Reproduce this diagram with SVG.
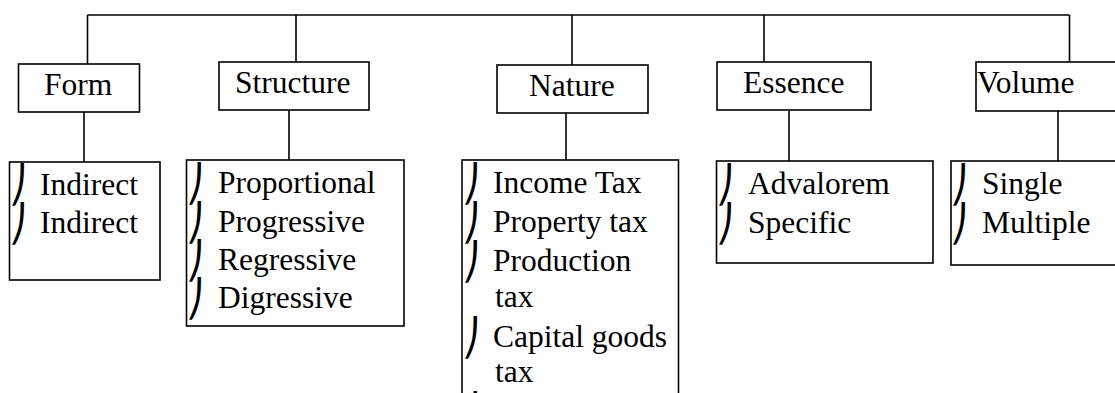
<svg xmlns="http://www.w3.org/2000/svg" width="1115" height="393" viewBox="0 0 1115 393">
<style>
.box{fill:#fff;stroke:#000;stroke-width:1.6}
.ln{fill:none;stroke:#000;stroke-width:1.6}
.t{font-family:'Liberation Serif','DejaVu Serif','Times New Roman',serif;font-size:31.5px;fill:#000}
.b{font-family:'DejaVu Sans','Noto Sans',sans-serif;font-size:36px;fill:#000}
</style>
<rect width="1115" height="393" fill="#fff"/>
<g id="connectors">
<path class="ln" d="M87.5,15 H1069.5 M87.5,15 V64 M296,15 V62 M572,15 V65 M764,15 V62 M1069.5,15 V62"/>
<path class="ln" d="M84,112 V162 M289,110 V160 M566,113 V160 M789,111 V161 M1058,111 V161"/>
</g>
<g id="form">
<rect class="box" x="18.5" y="64" width="121" height="48"/>
<text class="t" x="44" y="95">Form</text>
</g>
<g id="structure">
<rect class="box" x="219" y="62" width="150" height="48"/>
<text class="t" x="235" y="93">Structure</text>
</g>
<g id="nature">
<rect class="box" x="497" y="65" width="151" height="48"/>
<text class="t" x="529" y="96">Nature</text>
</g>
<g id="essence">
<rect class="box" x="717" y="62" width="154" height="48"/>
<text class="t" x="743" y="93">Essence</text>
</g>
<g id="volume">
<rect class="box" x="976" y="62" width="150" height="49"/>
<text class="t" x="977" y="93">Volume</text>
</g>
<g id="form-list">
<rect class="box" x="9.5" y="162" width="150.5" height="118"/>
<text class="b" x="9" y="197">⎠</text><text class="t" x="40" y="195">Indirect</text>
<text class="b" x="9" y="236">⎠</text><text class="t" x="40" y="233">Indirect</text>
</g>
<g id="structure-list">
<rect class="box" x="186.5" y="160" width="217.5" height="166"/>
<text class="b" x="186" y="196">⎠</text><text class="t" x="218" y="193">Proportional</text>
<text class="b" x="186" y="235">⎠</text><text class="t" x="218" y="232">Progressive</text>
<text class="b" x="186" y="273">⎠</text><text class="t" x="218" y="270">Regressive</text>
<text class="b" x="186" y="311">⎠</text><text class="t" x="218" y="308">Digressive</text>
</g>
<g id="nature-list">
<rect class="box" x="462" y="160" width="216.5" height="260"/>
<text class="b" x="462" y="196">⎠</text><text class="t" x="493" y="193">Income Tax</text>
<text class="b" x="462" y="235">⎠</text><text class="t" x="493" y="232">Property tax</text>
<text class="b" x="462" y="274">⎠</text><text class="t" x="493" y="271">Production</text>
<text class="t" x="495" y="307">tax</text>
<text class="b" x="462" y="350">⎠</text><text class="t" x="493" y="347">Capital goods</text>
<text class="t" x="495" y="382">tax</text>
<text class="b" x="462" y="425">⎠</text>
</g>
<g id="essence-list">
<rect class="box" x="716.5" y="161" width="216.5" height="102"/>
<text class="b" x="716" y="197">⎠</text><text class="t" x="748" y="194">Advalorem</text>
<text class="b" x="716" y="236">⎠</text><text class="t" x="748" y="233">Specific</text>
</g>
<g id="volume-list">
<rect class="box" x="951" y="161" width="180" height="104"/>
<text class="b" x="950" y="197">⎠</text><text class="t" x="982" y="194">Single</text>
<text class="b" x="950" y="236">⎠</text><text class="t" x="982" y="233">Multiple</text>
</g>
</svg>
